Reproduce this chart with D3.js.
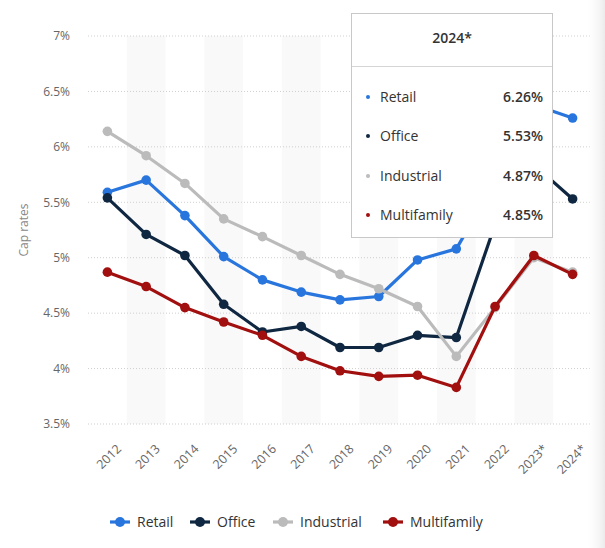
<!DOCTYPE html>
<html><head><meta charset="utf-8">
<script src="https://cdn.jsdelivr.net/npm/d3@7"></script>
<style>body{margin:0;background:#fff}svg{display:block;font-family:"Open Sans",sans-serif}</style>
</head><body>
<svg id="c" width="605" height="548"></svg>
<script>
const years = ["2012","2013","2014","2015","2016","2017","2018","2019","2020","2021","2022","2023*","2024*"];
const seriesNames = ["Retail","Office","Industrial","Multifamily"];
const seriesColors = ["#2876dd","#0f2741","#bbbbbb","#a10f0f"];
const retail      = [5.59,5.70,5.38,5.01,4.80,4.69,4.62,4.65,4.98,5.08,5.68,6.38,6.26];
const office      = [5.54,5.21,5.02,4.58,4.33,4.38,4.19,4.19,4.30,4.28,5.30,5.84,5.53];
const industrial  = [6.14,5.92,5.67,5.35,5.19,5.02,4.85,4.72,4.56,4.11,4.55,5.00,4.87];
const multifamily = [4.87,4.74,4.55,4.42,4.30,4.11,3.98,3.93,3.94,3.83,4.56,5.02,4.85];
const yTicks = [3.5,4,4.5,5,5.5,6,6.5,7];
const tooltipYear = "2024*";

const data = [retail, office, industrial, multifamily];
const svg = d3.select("#c");
const x = d3.scaleBand().domain(years).range([88,592]).padding(0);
const y = d3.scaleLinear().domain([3.5,7]).range([424,36]);
const fmt = v => (String(v)) + "%";

// shaded bands
svg.append("g").selectAll("rect").data(years.filter((d,i)=>i%2===1)).join("rect")
  .attr("x", d=>x(d)).attr("width", x.bandwidth()).attr("y", y(7)).attr("height", y(3.5)-y(7))
  .attr("fill","#f9f9f9");

// grid
svg.append("g").selectAll("line").data(yTicks).join("line")
  .attr("x1",88).attr("x2",592).attr("y1",d=>y(d)).attr("y2",d=>y(d))
  .attr("stroke","#cfcfcf").attr("stroke-width",1).attr("stroke-dasharray","1,2");

// y axis
const yAxis = d3.axisLeft(y).tickValues(yTicks).tickFormat(fmt).tickSize(0).tickPadding(0);
const ya = svg.append("g").attr("transform","translate(70,0)").call(yAxis);
ya.select(".domain").remove();
ya.selectAll("text").attr("fill","#666").attr("font-size","12px").attr("font-family","Open Sans");

svg.append("text").attr("transform","translate(28,230) rotate(-90)").attr("text-anchor","middle")
  .attr("fill","#888").attr("font-size","12px").text("Cap rates");

// x axis
const xAxis = d3.axisBottom(x).tickSize(0).tickPadding(0);
const xa = svg.append("g").attr("transform","translate(0,443)").call(xAxis);
xa.select(".domain").remove();
xa.selectAll("text").attr("fill","#666").attr("font-size","12.5px").attr("font-family","Open Sans")
  .attr("text-anchor","end").attr("dy","0.75em").attr("dx","0")
  .attr("transform","translate(8,0) rotate(-45)");

// lines
const line = d3.line().x((d,i)=>x(years[i])+x.bandwidth()/2).y(d=>y(d));
[0,1,2,3].forEach(si=>{
  const g = svg.append("g");
  g.append("path").datum(data[si]).attr("d",line).attr("fill","none")
    .attr("stroke",seriesColors[si]).attr("stroke-width",3.2).attr("stroke-linejoin","round");
  g.selectAll("circle").data(data[si]).join("circle")
    .attr("cx",(d,i)=>x(years[i])+x.bandwidth()/2).attr("cy",d=>y(d)).attr("r",4.8)
    .attr("fill",seriesColors[si]);
});

// right edge fade
const defs = svg.append("defs");
const gr = defs.append("linearGradient").attr("id","fade").attr("x1","0").attr("x2","1");
gr.append("stop").attr("offset","0").attr("stop-color","#fff").attr("stop-opacity",0);
gr.append("stop").attr("offset","1").attr("stop-color","#ebebeb").attr("stop-opacity",1);
svg.append("rect").attr("x",585).attr("y",0).attr("width",20).attr("height",548).attr("fill","url(#fade)");

// legend
const legX = [110,190,273,383];
const lg = svg.append("g");
seriesNames.forEach((n,i)=>{
  const gx = legX[i], gy = 522;
  lg.append("line").attr("x1",gx).attr("x2",gx+20).attr("y1",gy).attr("y2",gy)
    .attr("stroke",seriesColors[i]).attr("stroke-width",3.2);
  lg.append("circle").attr("cx",gx+10).attr("cy",gy).attr("r",5).attr("fill",seriesColors[i]);
  lg.append("text").attr("x",gx+27).attr("y",gy).attr("dy","0.35em").attr("font-size","14px")
    .attr("fill","#333").text(n);
});

// tooltip
const idx = years.indexOf(tooltipYear);
const tt = svg.append("g");
tt.append("rect").attr("x",351.5).attr("y",13.5).attr("width",201).attr("height",224)
  .attr("fill","#fff").attr("stroke","#c8c8c8").attr("stroke-width",1);
tt.append("text").attr("x",452).attr("y",38).attr("dy","0.35em").attr("text-anchor","middle")
  .attr("font-size","14px").attr("font-weight","600").attr("fill","#333").text(tooltipYear);
tt.append("line").attr("x1",352).attr("x2",552).attr("y1",66.5).attr("y2",66.5).attr("stroke","#d5d5d5");
const rowY = [97,136,176,215];
seriesNames.forEach((n,i)=>{
  tt.append("circle").attr("cx",368).attr("cy",rowY[i]).attr("r",2).attr("fill",seriesColors[i]);
  tt.append("text").attr("x",380).attr("y",rowY[i]).attr("dy","0.35em").attr("font-size","14px")
    .attr("fill","#333").text(n);
  tt.append("text").attr("x",543).attr("y",rowY[i]).attr("dy","0.35em").attr("text-anchor","end")
    .attr("font-size","14px").attr("font-weight","600").attr("fill","#333")
    .text(data[i][idx].toFixed(2)+"%");
});
</script>
</body></html>
